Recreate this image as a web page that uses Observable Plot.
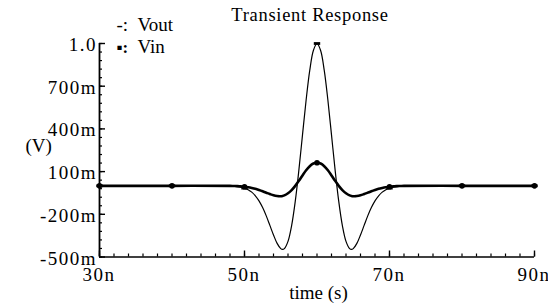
<!DOCTYPE html>
<html><head><meta charset="utf-8">
<script src="https://cdn.jsdelivr.net/npm/d3@7"></script>
<script src="https://cdn.jsdelivr.net/npm/@observablehq/plot@0.6"></script>
<style>body{margin:0;background:#fff} svg{display:block}</style>
</head><body><div id="chart"></div>
<script>
// time in ns
const time = [30, 40, 48, 48.5, 49, 49.5, 50, 50.5, 51, 51.5, 52, 52.5, 53, 53.5, 54, 54.5, 55, 55.25, 55.5, 56, 56.5, 57, 57.5, 58, 58.5, 59, 59.5,
  60, 60.5, 61, 61.5, 62, 62.5, 63, 63.5, 64, 64.5, 64.75, 65, 65.5, 66, 66.5, 67, 67.5, 68, 68.5, 69, 69.5, 70, 70.5, 71, 71.5, 72, 80, 90];
const vout = [0, 0, -0.001, -0.003, -0.005, -0.010, -0.016, -0.027, -0.044, -0.070, -0.106, -0.153, -0.211, -0.278, -0.345, -0.404, -0.441, -0.447, -0.441, -0.390, -0.279, -0.109, 0.110, 0.358, 0.603, 0.811, 0.951,
  1.000, 0.951, 0.811, 0.603, 0.358, 0.110, -0.109, -0.279, -0.390, -0.441, -0.447, -0.441, -0.404, -0.345, -0.278, -0.211, -0.153, -0.106, -0.070, -0.044, -0.027, -0.016, -0.010, -0.005, -0.003, -0.001, 0, 0];
const vin = [0, 0, 0, -0.001, -0.002, -0.004, -0.006, -0.010, -0.015, -0.021, -0.029, -0.038, -0.048, -0.058, -0.067, -0.072, -0.073, -0.071, -0.067, -0.052, -0.030, 0.000, 0.035, 0.073, 0.109, 0.138, 0.157,
  0.162, 0.157, 0.138, 0.109, 0.073, 0.035, 0.000, -0.030, -0.052, -0.067, -0.071, -0.073, -0.072, -0.067, -0.058, -0.048, -0.038, -0.029, -0.021, -0.015, -0.010, -0.006, -0.004, -0.002, -0.001, 0, 0, 0];
const markerTimes = [30, 40, 50, 60, 70, 80, 90];
const xMajorTicks = [30, 50, 70, 90];
const xMajorLabels = ["30n", "50n", "70n", "90n"];
const xMinorTicks = [30, 32, 34, 36, 38, 40, 42, 44, 46, 48, 50, 52, 54, 56, 58, 60, 62, 64, 66, 68, 70, 72, 74, 76, 78, 80, 82, 84, 86, 88, 90];
const yMajorTicks = [1.0, 0.7, 0.4, 0.1, -0.2, -0.5];
const yMajorLabels = ["1.0", "700m", "400m", "100m", "-200m", "-500m"];
const yMinorTicks = [-0.5, -0.44, -0.38, -0.32, -0.26, -0.2, -0.14, -0.08, -0.02, 0.04, 0.1, 0.16, 0.22, 0.28, 0.34, 0.4, 0.46, 0.52, 0.58, 0.64, 0.7, 0.76, 0.82, 0.88, 0.94, 1.0];
const seriesNames = ["Vout", "Vin"];
const legendSymbols = ["-:", "\u25AA:"];
const title = "Transient Response";
const xLabel = "time (s)";
const yLabel = "(V)";

const voutData = time.map((t, i) => ({t, v: vout[i]}));
const vinData = time.map((t, i) => ({t, v: vin[i]}));

const W = 548, H = 304, mL = 99, mR = 14, mT = 43, mB = 47.5;
const fw = W - mL - mR, fh = H - mT - mB;
const FF = "Liberation Serif";

const dashSymbol = {draw(ctx, size) { ctx.rect(-3.2, -1.4, 6.4, 2.8); }};

const chart = Plot.plot({
  width: W, height: H,
  marginLeft: mL, marginRight: mR, marginTop: mT, marginBottom: mB,
  x: {axis: null, domain: [30, 90]},
  y: {axis: null, domain: [-0.5, 1.0]},
  marks: [
    Plot.tickX(xMinorTicks, {x: d => d, insetTop: fh - 3, stroke: "black", strokeWidth: 1.2}),
    Plot.tickX(xMajorTicks, {x: d => d, insetTop: fh - 6, stroke: "black", strokeWidth: 1.4}),
    Plot.tickY(yMinorTicks, {y: d => d, insetRight: fw - 3, stroke: "black", strokeWidth: 1.2}),
    Plot.tickY(yMajorTicks, {y: d => d, insetRight: fw - 6, stroke: "black", strokeWidth: 1.4}),
    Plot.ruleX([30], {stroke: "black", strokeWidth: 1.8}),
    Plot.ruleY([-0.5], {stroke: "black", strokeWidth: 1.6}),
    Plot.line(vinData, {x: "t", y: "v", stroke: "black", strokeWidth: 2.6, curve: "catmull-rom"}),
    Plot.line(voutData, {x: "t", y: "v", stroke: "black", strokeWidth: 1.2, curve: "catmull-rom"}),
    Plot.dot(vinData.filter(d => markerTimes.includes(d.t)), {x: "t", y: "v", r: 2.8, fill: "black", stroke: null}),
    Plot.dot(voutData.filter(d => markerTimes.includes(d.t)), {x: "t", y: "v", symbol: dashSymbol, r: 3, fill: "black", stroke: null}),
    Plot.text(yMajorTicks, {y: d => d, text: (d, i) => yMajorLabels[i], frameAnchor: "left", textAnchor: "end", dx: -2.5, dy: 1.5, fontSize: 19, fontFamily: FF, fill: "black"}),
    Plot.text(xMajorTicks, {x: d => d, text: (d, i) => xMajorLabels[i], frameAnchor: "bottom", lineAnchor: "bottom", dy: 24, dx: -0.5, fontSize: 19, fontFamily: FF, fill: "black"}),
    Plot.text([yLabel], {text: d => d, frameAnchor: "left", dx: -74, dy: -4.5, fontSize: 19, fontFamily: FF, fill: "black"}),
    Plot.text([xLabel], {text: d => d, frameAnchor: "bottom", lineAnchor: "bottom", dx: 1.5, dy: 41.5, fontSize: 19, fontFamily: FF, fill: "black"}),
    Plot.text([title], {text: d => d, frameAnchor: "top", lineAnchor: "bottom", dx: -7, dy: -22.5, fontSize: 18.5, fontFamily: FF, fill: "black"}),
    Plot.text([legendSymbols[0]], {text: d => d, frameAnchor: "top-left", textAnchor: "start", lineAnchor: "bottom", dx: 17, dy: -12.5, fontSize: 19, fontFamily: FF, fill: "black"}),
    Plot.text([legendSymbols[1]], {text: d => d, frameAnchor: "top-left", textAnchor: "start", lineAnchor: "bottom", dx: 17, dy: 9.5, fontSize: 17, fontWeight: "bold", fontFamily: FF, fill: "black"}),
    Plot.text([seriesNames[0]], {text: d => d, frameAnchor: "top-left", textAnchor: "start", lineAnchor: "bottom", dx: 38, dy: -12.5, fontSize: 19, fontFamily: FF, fill: "black"}),
    Plot.text([seriesNames[1]], {text: d => d, frameAnchor: "top-left", textAnchor: "start", lineAnchor: "bottom", dx: 38, dy: 9.5, fontSize: 19, fontFamily: FF, fill: "black"})
  ]
});
const svgSel = d3.select(chart);
svgSel.attr("font-family", FF);
svgSel.selectAll("text").attr("font-family", FF);
const tickLabelSet = new Set([...xMajorLabels, ...yMajorLabels]);
svgSel.selectAll("text").filter(function() { return tickLabelSet.has(this.textContent); }).style("letter-spacing", "1.5px");
svgSel.selectAll("text").filter(function() { return this.textContent === title; }).style("letter-spacing", "0.7px");
document.getElementById("chart").appendChild(chart);
</script>
</body></html>
